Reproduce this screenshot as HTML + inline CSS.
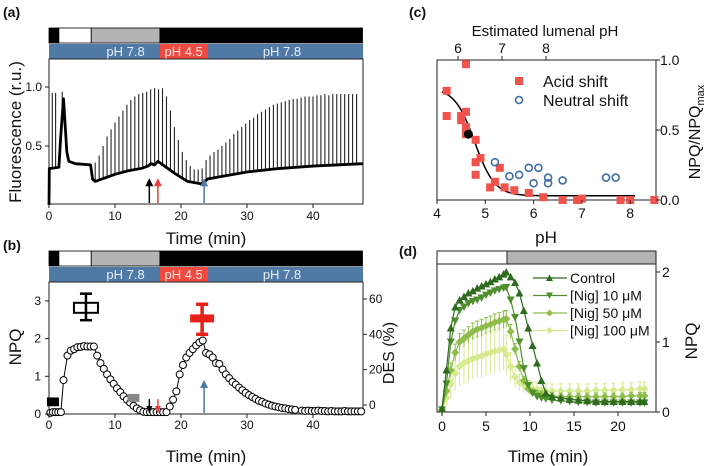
<!DOCTYPE html>
<html><head><meta charset="utf-8">
<style>
body{margin:0;background:#fff;}
svg{display:block;font-family:"Liberation Sans",sans-serif;}
</style></head>
<body>
<svg id="fig" width="709" height="466" viewBox="0 0 709 466" xmlns="http://www.w3.org/2000/svg">
<g id="gA"></g>
<g id="gB"></g>
<g id="gC"></g>
<g id="gD"></g>
</svg>
<script>
// ---------- Panel A data ----------
const pulseTimesA = [0.5,1.0,2.0,3.0,3.6,4.2,4.8,5.4,6.0,
7.0,7.6,8.2,8.8,9.4,10.0,10.6,11.2,11.8,12.4,13.0,13.6,14.2,14.8,15.4,16.0,16.6,17.2,17.8,18.4,19.0,19.6,20.2,20.8,21.4,22.0,22.6,23.2,23.8,24.4,25.0,25.6,26.2,26.8,27.4,28.0,28.6,29.2,29.8,30.4,31.0,31.6,32.2,32.8,33.4,34.0,34.6,35.2,35.8,36.4,37.0,37.6,38.2,38.8,39.4,40.0,40.6,41.2,41.8,42.4,43.0,43.6,44.2,44.8,45.4,46.0,46.6];
const pulsePeaksA = [0.95,0.95,0.96,0.37,0.36,0.36,0.35,0.35,0.35,
0.36,0.42,0.5,0.58,0.64,0.7,0.75,0.8,0.85,0.89,0.92,0.94,0.95,0.96,0.98,0.99,0.98,0.99,0.92,0.8,0.66,0.55,0.45,0.38,0.33,0.3,0.3,0.31,0.38,0.42,0.45,0.47,0.5,0.53,0.56,0.6,0.63,0.66,0.69,0.72,0.74,0.77,0.79,0.81,0.83,0.85,0.86,0.87,0.88,0.89,0.9,0.9,0.91,0.92,0.92,0.92,0.93,0.93,0.94,0.93,0.94,0.94,0.94,0.94,0.94,0.94,0.94];
const baseTimesA = [0,0.05,0.3,1.5,1.8,2.2,2.7,3.0,4.0,6.3,6.6,7.0,8.0,10,12,14,15,15.5,16,16.5,17.5,19,21,23,23.5,24,26,30,35,40,47.5];
const baseValsA  = [0,0.31,0.31,0.32,0.6,0.9,0.45,0.37,0.35,0.34,0.22,0.2,0.22,0.26,0.29,0.31,0.33,0.35,0.34,0.37,0.33,0.27,0.2,0.18,0.19,0.22,0.24,0.28,0.31,0.33,0.35];
const ticksA = [0,10,20,30,40];
const yTicksA = [0.5,1.0];
const arrowTimesA = [15.2,16.5,23.5];
const arrowColorsA = ["#000","#e8403a","#4a78a8"];

// ---------- Panel B data ----------
const timesB = [0.2,0.6,1.0,1.4,1.8,2.2,2.8,3.3,3.8,4.3,4.8,5.3,5.8,6.3,6.8,7.3,7.8,8.3,8.8,9.3,9.8,10.3,10.8,11.3,11.8,12.3,12.8,13.3,13.8,14.3,14.8,15.3,15.8,16.3,16.8,17.3,17.8,18.3,18.8,19.3,19.8,20.3,20.8,21.3,21.8,22.3,22.8,23.3,23.8,24.3,24.8,25.3,25.8,26.3,26.8,27.3,27.8,28.3,28.8,29.3,29.8,30.3,30.8,31.3,31.8,32.3,32.8,33.3,33.8,34.3,34.8,35.3,35.8,36.3,36.8,37.3,38.3,38.8,39.3,39.8,40.3,40.8,41.3,41.8,42.3,42.8,43.3,43.8,44.3,44.8,45.3,45.8,46.3,46.8,47.3];
const npqB = [0.03,0.05,0.05,0.05,0.05,0.9,1.55,1.68,1.72,1.77,1.78,1.8,1.79,1.79,1.79,1.55,1.35,1.2,1.05,0.92,0.8,0.68,0.58,0.47,0.38,0.3,0.22,0.15,0.1,0.06,0.05,0.05,0.05,0.05,0.05,0.05,0.05,0.2,0.38,0.6,1.05,1.3,1.5,1.62,1.72,1.82,1.9,1.95,1.62,1.58,1.5,1.35,1.33,1.18,1.05,0.95,0.85,0.78,0.7,0.63,0.56,0.5,0.45,0.4,0.35,0.32,0.28,0.25,0.22,0.2,0.18,0.16,0.15,0.13,0.12,0.11,0.09,0.08,0.09,0.08,0.08,0.09,0.08,0.08,0.07,0.08,0.07,0.07,0.07,0.08,0.07,0.07,0.07,0.07,0.07];
const desTimes = [0.6,5.6,12.8,23.2];
const desVals  = [2,55,4,49];
const desErrLo = [0,48,3,40];
const desErrHi = [3,63,5,57];
const desColors = ["#000","#000","#888","#e8201a"];
const yTicksB = [0,1,2,3];
const desTicks = [0,20,40,60];

// ---------- Panel C data ----------
const acidPH  = [4.2,4.2,4.5,4.5,4.6,4.6,4.6,4.6,4.8,4.8,4.8,4.9,5.1,5.2,5.3,5.4,5.6,5.9,6.2,6.6,6.9,7.0,7.8,8.0,8.5];
const acidVal = [0.78,0.6,0.57,0.6,0.63,0.97,0.47,0.52,0.43,0.27,0.18,0.3,0.09,0.13,0.23,0.09,0.07,0.05,0.02,0.0,0.0,0.01,0.0,0.0,0.0];
const neutPH  = [5.2,5.5,5.7,5.9,6.0,6.1,6.3,6.3,6.6,7.5,7.7];
const neutVal = [0.27,0.17,0.18,0.23,0.12,0.23,0.16,0.12,0.14,0.16,0.16];
const fitParams = [0.8,0.03,4.78,7]; // top, bottom, pK, hill
const ticksC = [4,5,6,7,8];
const topTicksC = [6,7,8];
const rightTicksC = [0,0.5,1.0];

// ---------- Panel D data ----------
const timesD = [0,0.5,1,1.5,2,2.5,3,3.5,4,4.5,5,5.5,6,6.5,7,7.3,7.8,8.3,8.8,9.3,9.8,10.3,10.8,11.3,11.8,12.5,13.5,14.5,15.5,16.5,17.5,18.5,19.5,20.5,21.5,22.5,23];
const ctrlD = [0.05,0.6,1.2,1.5,1.6,1.65,1.7,1.73,1.77,1.8,1.83,1.86,1.9,1.93,1.97,2.0,1.93,1.85,1.7,1.45,1.2,0.95,0.7,0.45,0.27,0.22,0.2,0.18,0.17,0.16,0.15,0.15,0.15,0.15,0.15,0.15,0.15];
const nig10D = [0.03,0.4,1.0,1.3,1.45,1.5,1.55,1.58,1.6,1.63,1.67,1.7,1.73,1.75,1.77,1.78,1.6,1.35,1.0,0.62,0.38,0.27,0.22,0.2,0.19,0.17,0.16,0.15,0.14,0.14,0.13,0.13,0.13,0.13,0.13,0.13,0.13];
const nig50D = [0.03,0.3,0.6,0.85,1.0,1.05,1.1,1.15,1.18,1.2,1.23,1.25,1.28,1.3,1.32,1.33,1.15,0.9,0.65,0.45,0.33,0.28,0.26,0.25,0.24,0.23,0.22,0.22,0.22,0.22,0.22,0.22,0.22,0.22,0.23,0.23,0.23];
const nig100D = [0.03,0.2,0.4,0.55,0.65,0.7,0.73,0.76,0.78,0.8,0.83,0.85,0.87,0.88,0.9,0.82,0.65,0.5,0.42,0.38,0.35,0.33,0.32,0.31,0.3,0.3,0.3,0.3,0.3,0.3,0.31,0.31,0.31,0.32,0.32,0.33,0.33];
const err50D = [0.02,0.08,0.1,0.12,0.12,0.12,0.12,0.12,0.12,0.12,0.12,0.12,0.12,0.12,0.12,0.12,0.1,0.08,0.07,0.06,0.05,0.05,0.05,0.05,0.05,0.05,0.05,0.05,0.05,0.05,0.05,0.05,0.05,0.05,0.05,0.05,0.05];
const err100D = [0.03,0.1,0.2,0.25,0.28,0.3,0.3,0.3,0.3,0.3,0.3,0.3,0.3,0.3,0.3,0.28,0.2,0.15,0.12,0.1,0.1,0.1,0.1,0.1,0.1,0.1,0.1,0.1,0.1,0.1,0.1,0.1,0.1,0.1,0.1,0.1,0.1];
const seriesNamesD = ["Control","[Nig] 10 μM","[Nig] 50 μM","[Nig] 100 μM"];
const seriesColorsD = ["#2e6b1f","#4f8f2e","#8fbd4c","#d6ea8e"];
const ticksD = [0,5,10,15,20];
const yTicksD = [0,1,2];

// ---------- helpers ----------
const NS="http://www.w3.org/2000/svg";
function mk(parent,tag,attrs,text){const e=document.createElementNS(NS,tag);for(const k in attrs)e.setAttribute(k,attrs[k]);if(text!==undefined)e.textContent=text;parent.appendChild(e);return e;}
function interp(xs,ys,x){if(x<=xs[0])return ys[0];for(let i=1;i<xs.length;i++){if(x<=xs[i]){const f=(x-xs[i-1])/(xs[i]-xs[i-1]);return ys[i-1]+f*(ys[i]-ys[i-1]);}}return ys[ys.length-1];}
function lbl(g,x,y,t,size,anchor,name,extra){const e=mk(g,'text',Object.assign({x:x,y:y,'font-size':size,'text-anchor':anchor||'middle',fill:'#111'},extra||{}),t);


return e;}
function condBars(g,x0,x1,y0,name){
  const xs=[0,1.5,6.4,16.8,47.5];const cols=['#000','#fff','#b4b4b4','#000'];
  for(let i=0;i<4;i++){const r=mk(g,'rect',{x:x0+xs[i]*6.6,y:y0,width:(xs[i+1]-xs[i])*6.6,height:15,fill:cols[i],stroke:'#000','stroke-width':0.8});
  
  }
  const b=mk(g,'rect',{x:x0,y:y0+16,width:x1-x0,height:15,fill:'#4f7aa6'});
  
  
  const rr=mk(g,'rect',{x:x0+16.8*6.6,y:y0+16,width:7.3*6.6,height:15,fill:'#f04a40'});
  
  
  lbl(g,x0+11.6*6.6,y0+28,'pH 7.8',13,'middle',name+'-ph-label',{fill:'#e8eef6'});
  lbl(g,x0+20.4*6.6,y0+28,'pH 4.5',13,'middle',name+'-ph-label',{fill:'#fde8e6'});
  lbl(g,x0+35.3*6.6,y0+28,'pH 7.8',13,'middle',name+'-ph-label',{fill:'#e8eef6'});
}

// ---------- Panel A ----------
(function(){
const g=document.getElementById('gA');
const xA=t=>49+t*6.6, yA=v=>205-v*118;
lbl(g,3,17,'(a)',14,'start','panel-a-label',{'font-weight':'bold'});
condBars(g,49,363,28,'panel-a');
const fr=mk(g,'rect',{x:49,y:59,width:314,height:145,fill:'none',stroke:'#222','stroke-width':1});


for(let i=0;i<pulseTimesA.length;i++){
  const t=pulseTimesA[i];const b=interp(baseTimesA,baseValsA,t);
  const l=mk(g,'line',{x1:xA(t),x2:xA(t),y1:yA(b),y2:yA(pulsePeaksA[i]),stroke:'#222','stroke-width':1.1});
  
  
}
const pl=mk(g,'polyline',{points:baseTimesA.map((t,i)=>xA(t)+','+yA(baseValsA[i])).join(' '),fill:'none',stroke:'#000','stroke-width':2.8,'stroke-linejoin':'round'});


ticksA.forEach(t=>{mk(g,'line',{x1:xA(t),x2:xA(t),y1:204,y2:208,stroke:'#222'});lbl(g,xA(t),220,String(t),12,'middle','x-tick-label');});
yTicksA.forEach(v=>{mk(g,'line',{x1:45,x2:49,y1:yA(v),y2:yA(v),stroke:'#222'});lbl(g,42,yA(v)+4,v.toFixed(1),12,'end','y-tick-label');});
arrowTimesA.forEach((t,i)=>{const x=xA(t);
  const a=mk(g,'line',{x1:x,x2:x,y1:203,y2:yA(0.21),stroke:arrowColorsA[i],'stroke-width':1.5});
  
  
  mk(g,'polygon',{points:`${x-4},${yA(0.21)+6} ${x+4},${yA(0.21)+6} ${x},${yA(0.21)-2}`,fill:arrowColorsA[i]});});
lbl(g,206,244,'Time (min)',17,'middle','x-axis-title');
lbl(g,0,0,'Fluorescence (r.u.)',17,'middle','y-axis-title',{transform:'translate(21,132) rotate(-90)'});
})();

// ---------- Panel B ----------
(function(){
const g=document.getElementById('gB');
const xB=t=>49+t*6.6, yB=n=>414-n*37.7, yDes=d=>405-d*1.767;
lbl(g,3,250,'(b)',14,'start','panel-b-label',{'font-weight':'bold'});
condBars(g,49,363,251,'panel-b');
const fr=mk(g,'rect',{x:49,y:282,width:314,height:132,fill:'none',stroke:'#222','stroke-width':1});


const pl=mk(g,'polyline',{points:timesB.map((t,i)=>xB(t)+','+yB(npqB[i])).join(' '),fill:'none',stroke:'#000','stroke-width':1});


timesB.forEach((t,i)=>{const c=mk(g,'circle',{cx:xB(t),cy:yB(npqB[i]),r:3.5,fill:'#fff',stroke:'#000','stroke-width':1});

});
arrowTimesA.forEach((t,i)=>{const x=xB(t);const top=i==2?yB(0.85):yB(0.5);
  mk(g,'line',{x1:x,x2:x,y1:413,y2:top+4,stroke:arrowColorsA[i],'stroke-width':1.5});
  const p=mk(g,'polygon',{points:i==2?`${x-4},${top+6} ${x+4},${top+6} ${x},${top-2}`:`${x-3},${406} ${x+3},${406} ${x},${413}`,fill:arrowColorsA[i]});
  
  });
desTimes.forEach((t,i)=>{const x=xB(t),y=yDes(desVals[i]),c=desColors[i];
  const w=i==3?3.5:2.5;
  mk(g,'line',{x1:x,x2:x,y1:yDes(desErrLo[i]),y2:yDes(desErrHi[i]),stroke:c,'stroke-width':w});
  mk(g,'line',{x1:x-6,x2:x+6,y1:yDes(desErrLo[i]),y2:yDes(desErrLo[i]),stroke:c,'stroke-width':w});
  mk(g,'line',{x1:x-6,x2:x+6,y1:yDes(desErrHi[i]),y2:yDes(desErrHi[i]),stroke:c,'stroke-width':w});
  const r=mk(g,'rect',i==1?{x:x-12,y:y-5,width:24,height:10,fill:'none',stroke:c,'stroke-width':2}:{x:x-(i==3?12:6),y:y-4,width:i==3?24:12,height:8,fill:c});
  
  });
ticksA.forEach(t=>{mk(g,'line',{x1:xB(t),x2:xB(t),y1:414,y2:418,stroke:'#222'});lbl(g,xB(t),429,String(t),12,'middle','x-tick-label');});
yTicksB.forEach(v=>{mk(g,'line',{x1:45,x2:49,y1:yB(v),y2:yB(v),stroke:'#222'});lbl(g,41,yB(v)+4,String(v),12,'end','y-tick-label');});
desTicks.forEach(v=>{mk(g,'line',{x1:363,x2:367,y1:yDes(v),y2:yDes(v),stroke:'#222'});lbl(g,369,yDes(v)+4,String(v),12,'start','des-tick-label');});
lbl(g,206,462,'Time (min)',17,'middle','x-axis-title');
lbl(g,0,0,'NPQ',17,'middle','y-axis-title',{transform:'translate(21,347) rotate(-90)'});
lbl(g,0,0,'DES (%)',16,'middle','des-axis-title',{transform:'translate(394,353) rotate(-90)'});
})();

// ---------- Panel C ----------
(function(){
const g=document.getElementById('gC');
const xC=p=>437+(p-4)*48.3, yC=r=>200-r*140, xT=p=>458+(p-6)*44;
lbl(g,409,17,'(c)',14,'start','panel-c-label',{'font-weight':'bold'});
lbl(g,545,36,'Estimated lumenal pH',15,'middle','top-axis-title');
const fr=mk(g,'rect',{x:437,y:60,width:219,height:140,fill:'none',stroke:'#222','stroke-width':1});


const [top,bot,pk,h]=fitParams;const pts=[];
for(let p=4.1;p<=8.12;p+=0.04){pts.push(xC(p)+','+yC(bot+(top-bot)/(1+Math.pow(10,(p-pk)*h/5*1.5))));}
const fit=mk(g,'polyline',{points:pts.join(' '),fill:'none',stroke:'#000','stroke-width':1.5});


acidPH.forEach((p,i)=>{const r=mk(g,'rect',{x:xC(p)-4,y:yC(acidVal[i])-4,width:8,height:8,fill:'#f0524c'});

});
neutPH.forEach((p,i)=>{const c=mk(g,'circle',{cx:xC(p),cy:yC(neutVal[i]),r:3.5,fill:'none',stroke:'#3f6ea5','stroke-width':1.6});

});
const bd=mk(g,'circle',{cx:xC(4.65),cy:yC(0.47),r:4.5,fill:'#000'});


ticksC.forEach(t=>{mk(g,'line',{x1:xC(t),x2:xC(t),y1:200,y2:204,stroke:'#222'});lbl(g,xC(t),218,String(t),14,'middle','x-tick-label');});
topTicksC.forEach(t=>{mk(g,'line',{x1:xT(t),x2:xT(t),y1:56,y2:60,stroke:'#222'});lbl(g,xT(t),53,String(t),14,'middle','top-tick-label');});
rightTicksC.forEach(v=>{mk(g,'line',{x1:656,x2:660,y1:yC(v),y2:yC(v),stroke:'#222'});lbl(g,660,yC(v)+5,v.toFixed(1),14,'start','y-tick-label');});
const ls=mk(g,'rect',{x:515,y:77,width:8,height:8,fill:'#f0524c'});


lbl(g,543,87,'Acid shift',16,'start','legend-acid-label');
const lc=mk(g,'circle',{cx:519,cy:100,r:3.5,fill:'none',stroke:'#3f6ea5','stroke-width':1.6});


lbl(g,543,106,'Neutral shift',16,'start','legend-neutral-label');
lbl(g,546,243,'pH',17,'middle','x-axis-title');
const t=lbl(g,0,0,'NPQ/NPQ',16,'middle','y-axis-title',{transform:'translate(700,132) rotate(-90)'});
mk(t,'tspan',{'font-size':11,dy:4},'max');
})();

// ---------- Panel D ----------
(function(){
const g=document.getElementById('gD');
const xD=t=>442+t*8.8, yD=n=>412-n*70;
lbl(g,399,256,'(d)',14,'start','panel-d-label',{'font-weight':'bold'});
const w=mk(g,'rect',{x:437,y:251,width:70,height:13,fill:'#fff',stroke:'#222','stroke-width':1});


const gr=mk(g,'rect',{x:507,y:251,width:149,height:13,fill:'#b4b4b4',stroke:'#222','stroke-width':1});


const fr=mk(g,'rect',{x:437,y:264,width:219,height:148,fill:'none',stroke:'#222','stroke-width':1});


const series=[ctrlD,nig10D,nig50D,nig100D];const errs=[null,null,err50D,err100D];
for(let s=3;s>=0;s--){
  const col=seriesColorsD[s];
  if(errs[s]) timesD.forEach((t,i)=>{const x=xD(t);mk(g,'line',{x1:x,x2:x,y1:yD(series[s][i]-errs[s][i]),y2:yD(series[s][i]+errs[s][i]),stroke:col,'stroke-width':1});mk(g,'line',{x1:x-2,x2:x+2,y1:yD(series[s][i]+errs[s][i]),y2:yD(series[s][i]+errs[s][i]),stroke:col,'stroke-width':1});});
  const pl=mk(g,'polyline',{points:timesD.map((t,i)=>xD(t)+','+yD(series[s][i])).join(' '),fill:'none',stroke:col,'stroke-width':1.2});
  
  
  timesD.forEach((t,i)=>{const x=xD(t),y=yD(series[s][i]);let pts;
    if(s==0)pts=`${x-4},${y+3.5} ${x+4},${y+3.5} ${x},${y-4}`;
    else if(s==1)pts=`${x-4},${y-3.5} ${x+4},${y-3.5} ${x},${y+4}`;
    else pts=`${x-4},${y} ${x},${y-4} ${x+4},${y} ${x},${y+4}`;
    const m=mk(g,'polygon',{points:pts,fill:col});
    
    });
}
seriesNamesD.forEach((n,i)=>{const y=278+i*17.5,col=seriesColorsD[i];
  mk(g,'line',{x1:533,x2:567,y1:y,y2:y,stroke:col,'stroke-width':1.2});
  mk(g,'polygon',{points:i==0?`546,${y+3} 553,${y+3} 549.5,${y-3.5}`:i==1?`546,${y-3} 553,${y-3} 549.5,${y+3.5}`:`546,${y} 549.5,${y-3.5} 553,${y} 549.5,${y+3.5}`,fill:col});
  lbl(g,570,y+5,n,14,'start','legend-entry');});
ticksD.forEach(t=>{mk(g,'line',{x1:xD(t),x2:xD(t),y1:412,y2:416,stroke:'#222'});lbl(g,xD(t),431,String(t),14,'middle','x-tick-label');});
yTicksD.forEach(v=>{mk(g,'line',{x1:656,x2:660,y1:yD(v),y2:yD(v),stroke:'#222'});lbl(g,662,yD(v)+5,String(v),14,'start','y-tick-label');});
lbl(g,548,462,'Time (min)',17,'middle','x-axis-title');
lbl(g,0,0,'NPQ',17,'middle','y-axis-title',{transform:'translate(697,341) rotate(-90)'});
})();
</script>
</body></html>
